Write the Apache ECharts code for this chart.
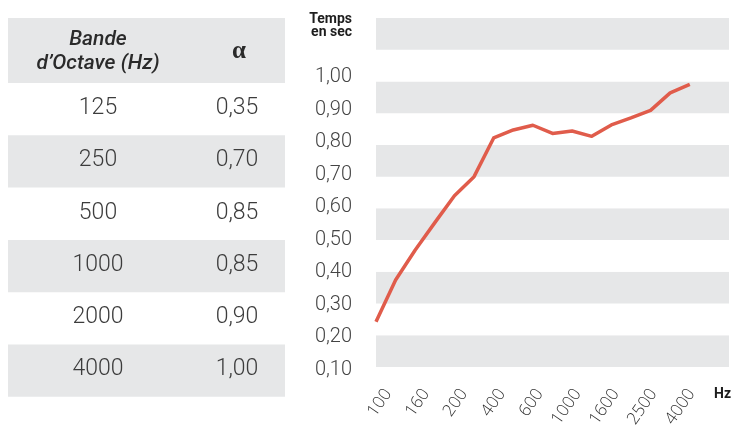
<!DOCTYPE html>
<html>
<head>
<meta charset="utf-8">
<script src="https://cdn.jsdelivr.net/npm/echarts@6/dist/echarts.min.js"></script>
<style>
    html, body { margin: 0; padding: 0; background: #fff; }
    #main { width: 731px; height: 430px; }
</style>
</head>
<body>
<div id="main"></div>
<script>
// ======================
// DATA
// ======================

// table : absorption per octave band
const bandLabels = ['125', '250', '500', '1000', '2000', '4000'];
const alphaValues = [0.35, 0.70, 0.85, 0.85, 0.90, 1.00];

// curve : reverberation time per 1/3 octave (labels every other point)
const freqLabels = ['100', '', '160', '', '200', '', '400', '', '600', '', '1000', '', '1600', '', '2500', '', '4000', '', ''];
const timeValues = [0.243, 0.374, 0.469, 0.555, 0.640, 0.700, 0.822, 0.847, 0.862, 0.836, 0.844, 0.827, 0.863, 0.885, 0.909, 0.964, 0.991];

// band scale (grey stripes) and tick-label scale
const yMin = 0.1;
const yMax = 1.2;
const yStep = 0.1;
const yLabelMin = 0.1;
const yLabelMax = 1.0;

// ======================
// HELPERS
// ======================

const fmt = v => v.toFixed(2).replace('.', ',');

const GRAY = '#e6e7e8';
const TEXT = '#3c3c3c';

function buildTable() {
    const left = 8, width = 277;
    const headTop = 18, headH = 65;
    const rowH = 52.3;
    const col1 = 98, col2 = 237;
    const els = [];

    els.push({ type: 'rect', shape: { x: left, y: headTop, width: width, height: headH }, style: { fill: GRAY }, silent: true });
    els.push({
        type: 'text', x: col1, y: 40,
        style: { text: 'Bande', font: 'italic 500 21px Roboto', fill: '#2a2a2a', align: 'center', verticalAlign: 'middle' }
    });
    els.push({
        type: 'text', x: col1, y: 64,
        style: { text: 'd\u2019Octave (Hz)', font: 'italic 500 21px Roboto', fill: '#2a2a2a', align: 'center', verticalAlign: 'middle' }
    });
    els.push({
        type: 'text', x: 239, y: 52,
        style: { text: '\u03b1', font: 'bold 25px "Liberation Serif"', fill: '#2a2a2a', align: 'center', verticalAlign: 'middle' }
    });

    bandLabels.forEach((band, i) => {
        const top = headTop + headH + i * rowH;
        if (i % 2 === 1) {
            els.push({ type: 'rect', shape: { x: left, y: top, width: width, height: rowH }, style: { fill: GRAY }, silent: true });
        }
        const cy = top + rowH / 2 - 1;
        els.push({ type: 'text', x: col1, y: cy, style: { text: band, font: '300 23px Roboto', fill: TEXT, align: 'center', verticalAlign: 'middle' } });
        els.push({ type: 'text', x: col2, y: cy, style: { text: fmt(alphaValues[i]), font: '300 23px Roboto', fill: TEXT, align: 'center', verticalAlign: 'middle' } });
    });

    return els;
}

// ======================
// CHART
// ======================

const chart = echarts.init(document.getElementById('main'), null, { renderer: 'canvas' });

const hidden = { axisLine: { show: false }, axisTick: { show: false }, splitLine: { show: false } };

const option = {
    animation: false,
    backgroundColor: '#fff',
    grid: [
        // plot area (stripes + curve)
        { left: 376, right: 2, top: 18, bottom: 63 },
        // label frame (tick labels sit slightly off the stripes in the original)
        { left: 388, right: 1, top: 77, bottom: 57 }
    ],
    xAxis: [
        {
            type: 'category', gridIndex: 0, data: freqLabels, boundaryGap: false,
            ...hidden, axisLabel: { show: false }
        },
        {
            type: 'category', gridIndex: 1, data: freqLabels, boundaryGap: false,
            ...hidden,
            axisLabel: {
                interval: 0,
                rotate: 55,
                margin: 21,
                fontFamily: 'Open Sans',
                fontWeight: 300,
                fontSize: 17,
                color: '#333'
            }
        }
    ],
    yAxis: [
        {
            type: 'value', gridIndex: 0, min: yMin, max: yMax, interval: yStep,
            ...hidden,
            splitArea: { show: true, areaStyle: { color: [GRAY, '#ffffff'] } },
            axisLabel: { show: false }
        },
        {
            type: 'value', gridIndex: 1, min: yLabelMin, max: yLabelMax, interval: yStep,
            ...hidden,
            axisLabel: {
                margin: 36,
                fontFamily: 'Roboto',
                fontWeight: 300,
                fontSize: 20,
                color: '#444',
                formatter: v => fmt(v)
            }
        }
    ],
    series: [{
        type: 'line',
        xAxisIndex: 0,
        yAxisIndex: 0,
        data: timeValues,
        symbol: 'none',
        lineStyle: { color: '#e05c4b', width: 3.5, join: 'round' }
    }],
    graphic: [
        ...buildTable(),
        {
            type: 'text', x: 352, y: 19,
            style: { text: 'Temps', font: 'bold 14px Roboto', fill: '#1e1e1e', align: 'right', verticalAlign: 'middle' }
        },
        {
            type: 'text', x: 352, y: 32,
            style: { text: 'en sec', font: 'bold 14px Roboto', fill: '#1e1e1e', align: 'right', verticalAlign: 'middle' }
        },
        {
            type: 'text', x: 731, y: 394,
            style: { text: 'Hz', font: 'bold 14px Roboto', fill: '#1e1e1e', align: 'right', verticalAlign: 'middle' }
        }
    ]
};

chart.setOption(option);
</script>
</body>
</html>
